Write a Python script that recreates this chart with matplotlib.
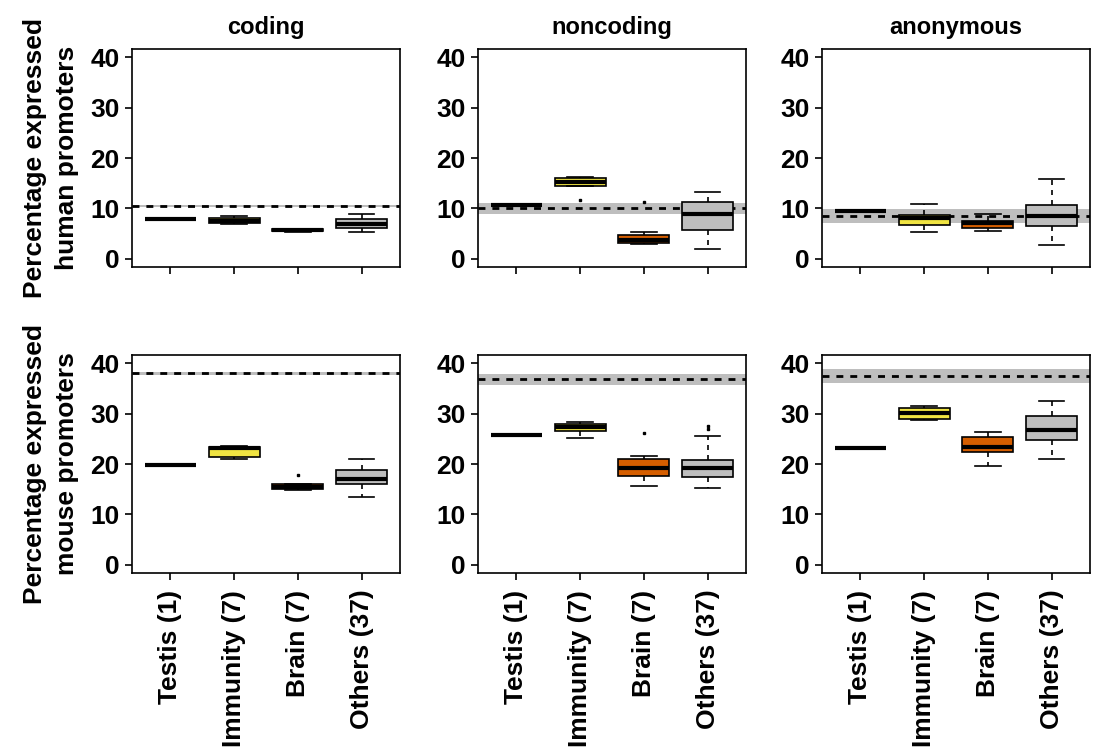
import matplotlib
matplotlib.use("Agg")
import matplotlib.pyplot as plt

plt.rcParams['font.family'] = ['Liberation Sans', 'DejaVu Sans']
plt.rcParams['font.weight'] = 'bold'

categories = ["Testis (1)", "Immunity (7)", "Brain (7)", "Others (37)"]
panel_titles = ["coding", "noncoding", "anonymous"]
row_labels = ["Percentage expressed\nhuman promoters", "Percentage expressed\nmouse promoters"]
box_colors = ["#000000", "#F0E442", "#D55E00", "#BEBEBE"]

# box statistics per panel: [whislo, q1, med, q3, whishi] for each category
human_coding = [[7.9, 7.9, 7.9, 7.9, 7.9], [7.0, 7.1, 7.5, 8.2, 8.6],
                [5.3, 5.5, 5.8, 6.0, 6.0], [5.4, 6.2, 6.9, 7.9, 8.9]]
human_noncoding = [[10.7, 10.7, 10.7, 10.7, 10.7], [14.5, 14.5, 15.2, 16.1, 16.3],
                   [3.0, 3.2, 3.8, 4.7, 5.4], [2.0, 5.8, 9.0, 11.2, 13.2]]
human_anonymous = [[9.4, 9.4, 9.4, 9.4, 9.4], [5.4, 6.8, 8.2, 8.7, 10.9],
                   [5.6, 6.1, 7.1, 7.6, 9.0], [2.8, 6.6, 8.5, 10.7, 15.9]]
mouse_coding = [[19.9, 19.9, 19.9, 19.9, 19.9], [20.9, 21.3, 23.1, 23.3, 23.6],
                [14.8, 15.0, 15.5, 16.1, 16.1], [13.5, 16.0, 17.1, 18.9, 21.0]]
mouse_noncoding = [[25.7, 25.7, 25.7, 25.7, 25.7], [25.2, 26.5, 27.4, 28.0, 28.4],
                   [15.6, 17.7, 19.3, 20.9, 21.5], [15.2, 17.4, 19.3, 20.7, 25.5]]
mouse_anonymous = [[23.2, 23.2, 23.2, 23.2, 23.2], [28.7, 28.9, 30.2, 31.0, 31.5],
                   [19.7, 22.3, 23.4, 25.4, 26.4], [20.9, 24.7, 26.7, 29.6, 32.5]]

# outliers per panel and category
human_coding_out = [[], [], [], []]
human_noncoding_out = [[], [11.7], [11.3], []]
human_anonymous_out = [[], [], [], []]
mouse_coding_out = [[], [], [17.9], []]
mouse_noncoding_out = [[], [], [26.2], [26.9, 27.6]]
mouse_anonymous_out = [[], [], [], []]

# genome-wide baseline (dashed) and its range (grey band)
human_baseline = [10.4, 10.1, 8.5]
human_band_lo = [10.2, 8.9, 7.2]
human_band_hi = [10.6, 11.1, 9.9]
mouse_baseline = [38.0, 36.8, 37.4]
mouse_band_lo = [37.7, 35.6, 36.1]
mouse_band_hi = [38.3, 37.8, 38.8]

stats_grid = [[human_coding, human_noncoding, human_anonymous],
              [mouse_coding, mouse_noncoding, mouse_anonymous]]
out_grid = [[human_coding_out, human_noncoding_out, human_anonymous_out],
            [mouse_coding_out, mouse_noncoding_out, mouse_anonymous_out]]
base_grid = [human_baseline, mouse_baseline]
lo_grid = [human_band_lo, mouse_band_lo]
hi_grid = [human_band_hi, mouse_band_hi]

W, H = 1093, 753
fig = plt.figure(figsize=(W / 100, H / 100), dpi=100)

lefts = [132, 478, 822]
tops = [49, 355]
aw, ah = 268, 218

for r in range(2):
    for c in range(3):
        ax = fig.add_axes([lefts[c] / W, 1 - (tops[r] + ah) / H, aw / W, ah / H])
        ax.axhspan(lo_grid[r][c], hi_grid[r][c], color="#BEBEBE", lw=0, zorder=1)
        ax.axhline(base_grid[r][c], color="black", lw=2, ls=(0, (2.5, 2.5)), zorder=2)

        stats = []
        for i, s in enumerate(stats_grid[r][c]):
            stats.append({"whislo": s[0], "q1": s[1], "med": s[2], "q3": s[3],
                          "whishi": s[4], "fliers": out_grid[r][c][i]})
        bp = ax.bxp(stats, positions=[1, 2, 3, 4], widths=0.8, patch_artist=True,
                    showfliers=True, zorder=3,
                    boxprops=dict(edgecolor="black", lw=1.2),
                    medianprops=dict(color="black", lw=3, solid_capstyle="butt"),
                    whiskerprops=dict(color="black", lw=1.2, ls=(0, (3, 3))),
                    capprops=dict(color="black", lw=1.2),
                    flierprops=dict(marker="s", markersize=2, markerfacecolor="black",
                                    markeredgecolor="black", lw=0))
        for patch, col in zip(bp["boxes"], box_colors):
            patch.set_facecolor(col)
        for cap in bp["caps"]:
            x0, x1 = cap.get_xdata()
            mid = (x0 + x1) / 2
            cap.set_xdata([mid - 0.2, mid + 0.2])

        ax.set_xlim(0.4, 4.6)
        ax.set_ylim(-1.6, 41.6)
        ax.set_yticks([0, 10, 20, 30, 40])
        ax.tick_params(axis="y", labelsize=19, length=5, width=1.2, pad=4)
        ax.tick_params(axis="x", labelsize=19, length=5, width=1.2, pad=7)
        for lab in ax.get_yticklabels():
            lab.set_fontweight("bold")
        if r == 1:
            ax.set_xticklabels(categories, rotation=90, fontweight="bold")
        else:
            ax.set_xticklabels([])
            ax.set_title(panel_titles[c], fontsize=17, fontweight="bold", pad=11)
        for sp in ax.spines.values():
            sp.set_linewidth(1.2)
        if c == 0:
            ax.set_ylabel(row_labels[r], fontsize=19, fontweight="bold", labelpad=8,
                          linespacing=1.4)

fig.savefig("out.png", dpi=100)
